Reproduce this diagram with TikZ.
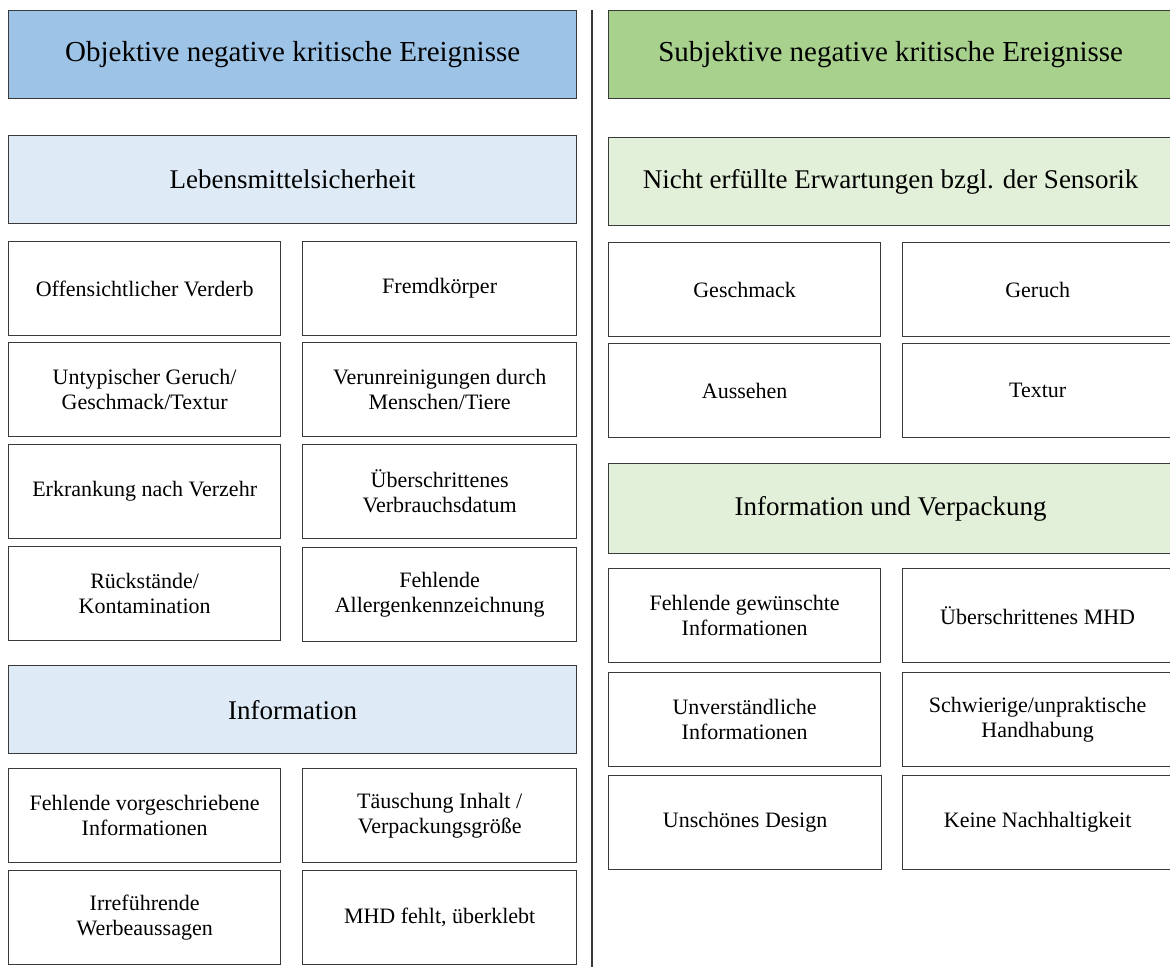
\documentclass[tikz,border=0pt]{standalone}
\usepackage{fontspec}
\setmainfont{Liberation Serif}
\usepackage{xcolor}
\usepackage{tikz}
\usetikzlibrary{positioning}

\definecolor{hdrblue}{HTML}{9DC3E6}
\definecolor{hdrgreen}{HTML}{A9D18E}
\definecolor{secblue}{HTML}{DEEBF7}
\definecolor{secgreen}{HTML}{E2F0D9}
\definecolor{boxline}{HTML}{3A3A3A}

\tikzset{
    catbox/.style={draw=boxline, line width=1.3pt, rectangle, anchor=north west, align=center, inner sep=2pt},
    hdrbox/.style={catbox, minimum height=88pt, font=\fontsize{29}{34}\selectfont},
    secbox/.style={catbox, minimum height=88pt, font=\fontsize{27}{32}\selectfont},
    itembox/.style={catbox, minimum height=94pt, font=\fontsize{22}{25}\selectfont}
}

\begin{document}
\begin{tikzpicture}[x=1pt, y=-1pt]
    \useasboundingbox (0,0) rectangle (1170,967);

    % Trennlinie
    \coordinate (divtop) at (592,10);
    \coordinate (divbot) at (592,967);
    \draw[boxline, line width=1.5pt] (divtop) -- (divbot);

    % linke Seite: objektive Ereignisse
    \node[hdrbox, fill=hdrblue, minimum width=568pt] (objhdr) at (8,10) {Objektive negative kritische Ereignisse};
    \node[secbox, fill=secblue, minimum width=568pt] (lmsicher) at (8,135) {Lebensmittelsicherheit};

    \node[itembox, minimum width=272pt] (verderb) at (8,241) {Offensichtlicher Verderb};
    \node[itembox, minimum width=274pt] (fremd) at (302,241) {Fremdkörper};
    \node[itembox, minimum width=272pt] (untyp) at (8,342) {Untypischer Geruch/\\Geschmack/Textur};
    \node[itembox, minimum width=274pt] (verunr) at (302,342) {Verunreinigungen durch\\Menschen/Tiere};
    \node[itembox, minimum width=272pt] (erkrank) at (8,444) {Erkrankung nach Verzehr};
    \node[itembox, minimum width=274pt] (verbrauch) at (302,444) {Überschrittenes\\Verbrauchsdatum};
    \node[itembox, minimum width=272pt] (rueck) at (8,546) {Rückstände/\\Kontamination};
    \node[itembox, minimum width=274pt] (allergen) at (302,547) {Fehlende\\Allergenkennzeichnung};

    \node[secbox, fill=secblue, minimum width=568pt] (objinfo) at (8,665) {Information};

    \node[itembox, minimum width=272pt] (vorgeschr) at (8,768) {Fehlende vorgeschriebene\\Informationen};
    \node[itembox, minimum width=274pt] (taeusch) at (302,768) {Täuschung Inhalt /\\Verpackungsgröße};
    \node[itembox, minimum width=272pt] (werbe) at (8,870) {Irreführende\\Werbeaussagen};
    \node[itembox, minimum width=274pt] (mhdfehlt) at (302,870) {MHD fehlt, überklebt};

    % rechte Seite: subjektive Ereignisse
    \node[hdrbox, fill=hdrgreen, minimum width=564pt] (subjhdr) at (608,10) {Subjektive negative kritische Ereignisse};
    \node[secbox, fill=secgreen, minimum width=564pt] (sensorik) at (608,137) {Nicht erfüllte Erwartungen bzgl. der Sensorik};

    \node[itembox, minimum width=272pt] (geschmack) at (608,242) {Geschmack};
    \node[itembox, minimum width=270pt] (geruch) at (902,242) {Geruch};
    \node[itembox, minimum width=272pt] (aussehen) at (608,343) {Aussehen};
    \node[itembox, minimum width=270pt] (textur) at (902,343) {Textur};

    \node[secbox, fill=secgreen, minimum width=564pt, minimum height=90pt] (verpack) at (608,463) {Information und Verpackung};

    \node[itembox, minimum width=272pt] (gewuenscht) at (608,568) {Fehlende gewünschte\\Informationen};
    \node[itembox, minimum width=270pt] (mhd) at (902,568) {Überschrittenes MHD};
    \node[itembox, minimum width=272pt] (unverst) at (608,672) {Unverständliche\\Informationen};
    \node[itembox, minimum width=270pt] (handhab) at (902,672) {Schwierige/unpraktische\\Handhabung};
    \node[itembox, minimum width=273pt] (design) at (608,775) {Unschönes Design};
    \node[itembox, minimum width=270pt] (nachhalt) at (902,775) {Keine Nachhaltigkeit};
\end{tikzpicture}
\end{document}
